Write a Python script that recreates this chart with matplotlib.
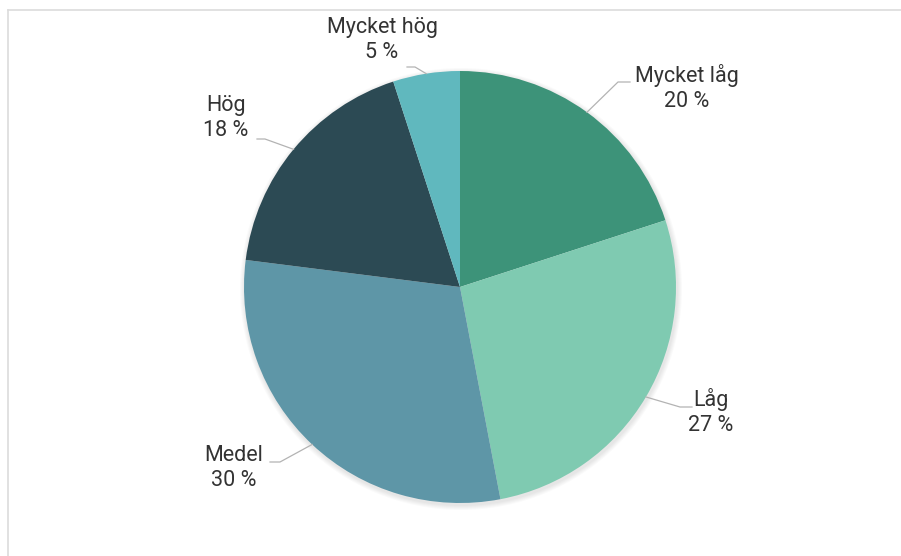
import numpy as np
import matplotlib.pyplot as plt
from matplotlib.patches import Circle

plt.rcParams['font.family'] = ['Roboto', 'DejaVu Sans']

categories = ['Mycket låg', 'Låg', 'Medel', 'Hög', 'Mycket hög']
shares = [20, 27, 30, 18, 5]
colors = ['#3d9379', '#7fcab1', '#5e96a7', '#2c4a54', '#60b8be']

W, H = 901, 556
cx, cy, r = 460, H - 287, 216

# label anchors (elbow of leader line, end of line, text centre), pixels from top-left
label_layout = [
    ((618, 82), (630, 82), (687, 88)),
    ((680, 407), (692, 407), (711, 412)),
    ((280, 462), (270, 462), (234, 468)),
    ((265, 139), (257, 139), (226, 118)),
    ((415, 67), (407, 67), (382, 40)),
]

fig = plt.figure(figsize=(W / 100, H / 100), dpi=100)
ax = fig.add_axes([0, 0, 1, 1])

# frame on top and left
ax.plot([8, W], [H - 10, H - 10], color='#dcdcdc', lw=1.2)
ax.plot([8, 8], [H - 10, 0], color='#dcdcdc', lw=1.2)

# soft shadow under the pie
for i in range(5):
    ax.add_patch(Circle((cx + 1, cy - 2), r + 1 + i, color='black',
                        alpha=0.02, lw=0, zorder=1))

wedges, _ = ax.pie(shares, colors=colors, startangle=90, counterclock=False,
                   center=(cx, cy), radius=r, frame=True,
                   wedgeprops=dict(linewidth=0, zorder=2))
ax.set_xlim(0, W)
ax.set_ylim(0, H)
ax.set_aspect('equal')
ax.axis('off')

for w, name, val, (elbow, end, txt) in zip(wedges, categories, shares, label_layout):
    mid = np.deg2rad((w.theta1 + w.theta2) / 2)
    x0 = cx + r * np.cos(mid)
    y0 = cy + r * np.sin(mid)
    ax.plot([x0, elbow[0], end[0]], [y0, H - elbow[1], H - end[1]],
            color='#b3b3b3', lw=0.9, zorder=3)
    ax.text(txt[0], H - txt[1], f'{name}\n{val} %', ha='center', va='center',
            fontsize=15.5, color='#333333', linespacing=1.2, zorder=4)

fig.savefig('out.png', dpi=100)
